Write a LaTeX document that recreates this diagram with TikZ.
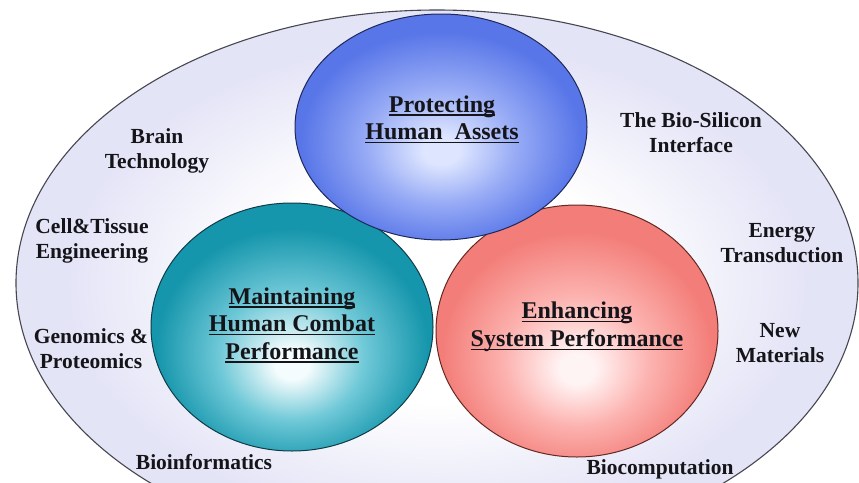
\documentclass[tikz,border=0pt]{standalone}
\usepackage{fontspec}
\setmainfont{Liberation Serif}
\definecolor{bglav}{RGB}{228,228,247}
\definecolor{bgline}{RGB}{70,70,80}
\definecolor{bluein}{RGB}{222,230,255}
\definecolor{bluemid}{RGB}{150,170,245}
\definecolor{blueout}{RGB}{88,118,232}
\definecolor{blueline}{RGB}{30,40,90}
\definecolor{tealin}{RGB}{245,252,253}
\definecolor{tealmid}{RGB}{110,200,215}
\definecolor{tealout}{RGB}{22,150,172}
\definecolor{tealline}{RGB}{15,60,70}
\definecolor{redin}{RGB}{255,244,244}
\definecolor{redmid}{RGB}{252,178,175}
\definecolor{redout}{RGB}{243,125,120}
\definecolor{redline}{RGB}{100,40,35}
\definecolor{txt}{RGB}{20,20,25}
\pgfdeclareradialshading{bgshade}{\pgfpoint{0bp}{0bp}}{color(0bp)=(white);color(11bp)=(white);color(22bp)=(bglav);color(50bp)=(bglav)}
\pgfdeclareradialshading{blueball}{\pgfpoint{0bp}{-5.5bp}}{color(0bp)=(bluein);color(3bp)=(bluein);color(13bp)=(bluemid);color(24bp)=(blueout);color(50bp)=(blueout)}
\pgfdeclareradialshading{tealball}{\pgfpoint{0bp}{-8bp}}{color(0bp)=(tealin);color(3bp)=(tealin);color(13bp)=(tealmid);color(24bp)=(tealout);color(50bp)=(tealout)}
\pgfdeclareradialshading{redball}{\pgfpoint{0bp}{-8bp}}{color(0bp)=(redin);color(3bp)=(redin);color(13bp)=(redmid);color(24bp)=(redout);color(50bp)=(redout)}
\newcommand\ulin[1]{\setbox0=\hbox{#1}\rlap{\rule[-3.4pt]{\wd0}{1.3pt}}\box0}
\tikzset{
  lab/.style={font=\fontsize{21.5}{25}\selectfont\bfseries, align=center, text=txt, inner sep=0pt, anchor=center},
  ttl/.style={font=\fontsize{24}{27.5}\selectfont\bfseries, align=center, text=txt, inner sep=0pt, anchor=center}
}
\begin{document}
\begin{tikzpicture}[x=1pt,y=-1pt]
\useasboundingbox (0,0) rectangle (859,482);
\clip (0,0) rectangle (859,482);
\fill[white] (0,0) rectangle (859,482);
% outer ellipse
\shadedraw[shading=bgshade, draw=bgline, line width=1.1pt]
  (437,283) ellipse [x radius=421pt, y radius=273pt];
% three circles
\shadedraw[shading=tealball, draw=tealline, line width=1pt] (292,327) ellipse [x radius=141pt, y radius=124pt];
\shadedraw[shading=redball, draw=redline, line width=1pt] (577,331) ellipse [x radius=141pt, y radius=126pt];
\shadedraw[shading=blueball, draw=blueline, line width=1pt] (441,127) ellipse [x radius=146pt, y radius=113pt];
% titles
\node[ttl] (protect) at (442,119.5) {\ulin{Protecting}\\\ulin{Human\ \ Assets}};
\node[ttl] (maintain) at (292,325) {\ulin{Maintaining}\\\ulin{Human Combat}\\\ulin{Performance}};
\node[ttl] (enhance) at (577,327) {\ulin{Enhancing}\\\ulin{System Performance}};
% labels
\node[lab] (brain) at (157,151) {Brain\\Technology};
\node[lab] (biosil) at (691,133) {The Bio-Silicon\\Interface};
\node[lab] (cell) at (92,240.5) {Cell\&Tissue\\Engineering};
\node[lab] (energy) at (782,243) {Energy\\Transduction};
\node[lab] (genom) at (91,349) {Genomics \&\\Proteomics};
\node[lab] (newmat) at (780,343.5) {New\\Materials};
\node[lab] (bioinf) at (204,462) {Bioinformatics};
\node[lab] (biocomp) at (660,469) {Biocomputation};
\end{tikzpicture}
\end{document}
